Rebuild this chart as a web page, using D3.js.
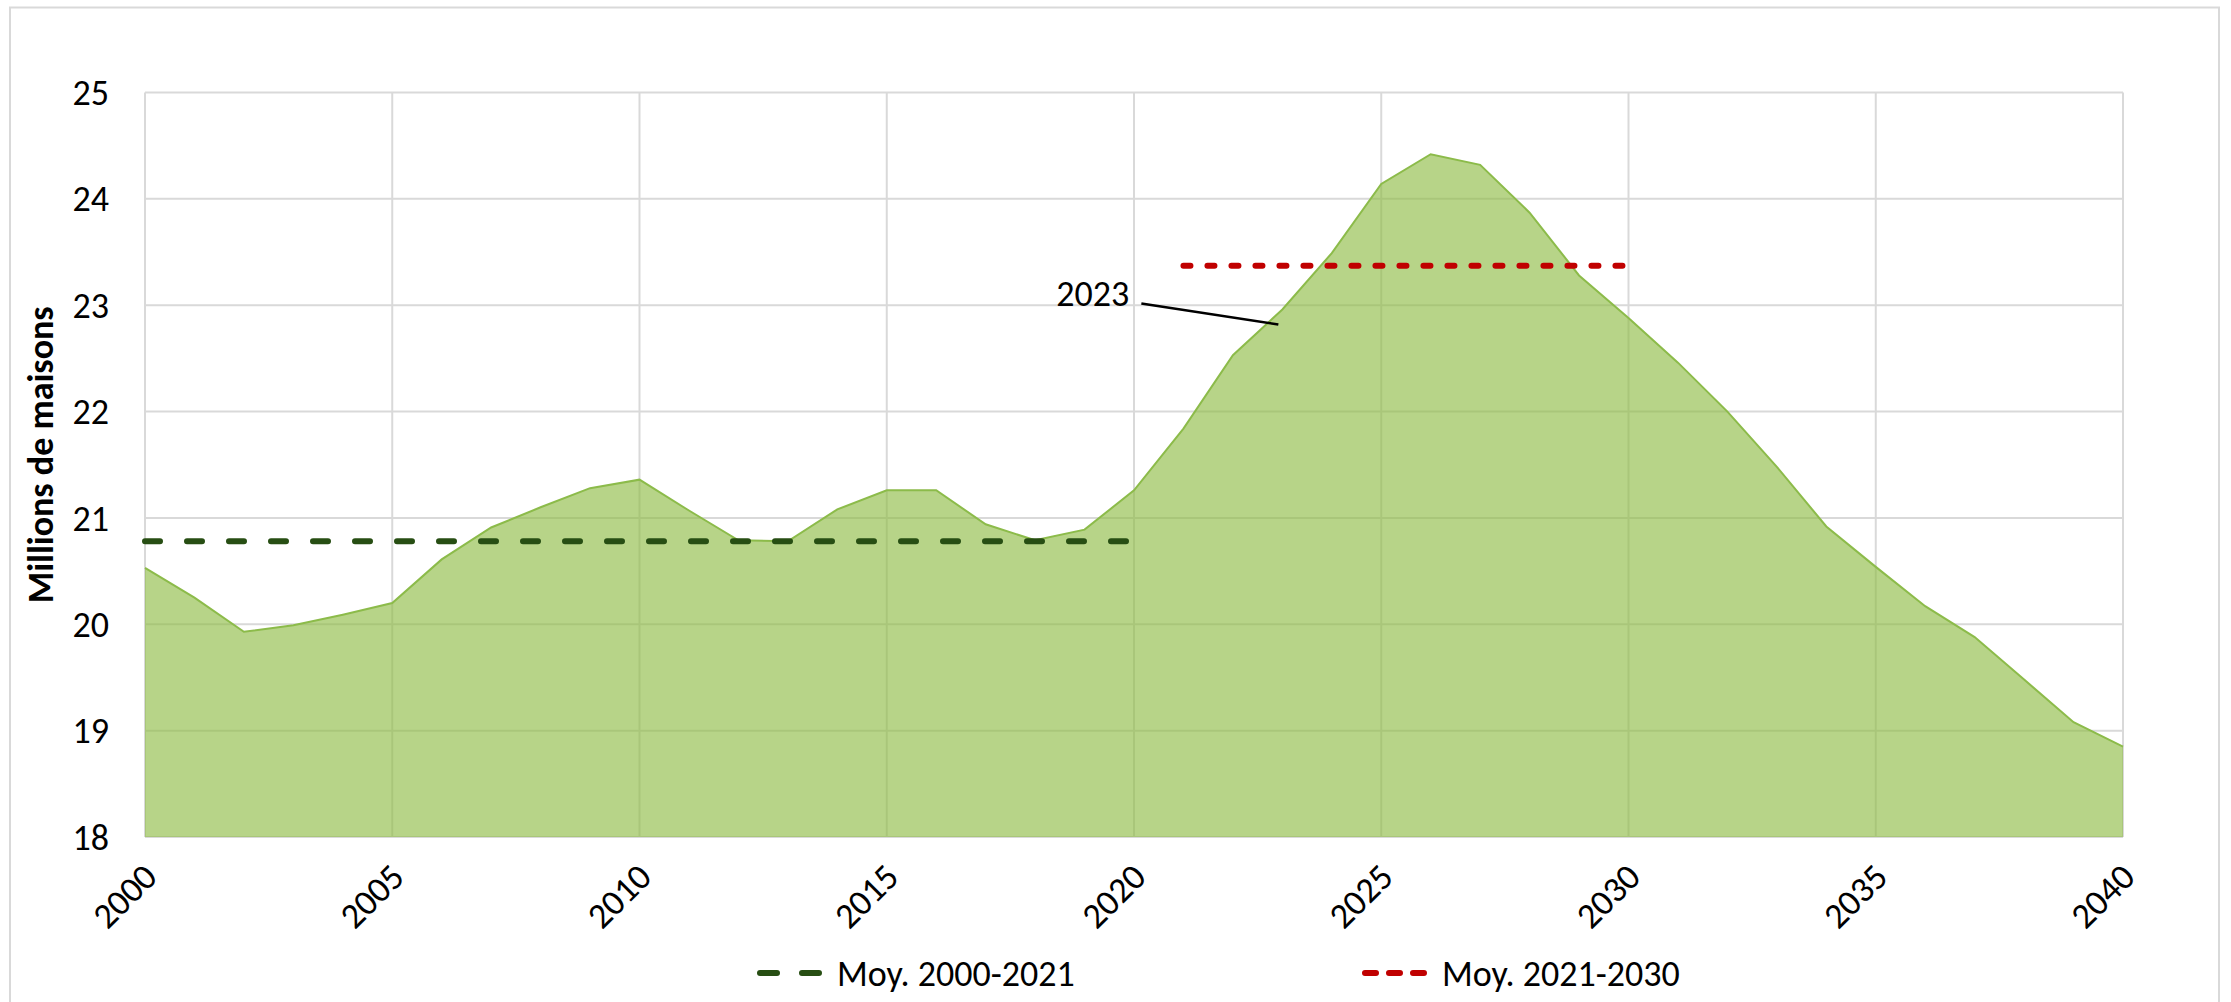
<!DOCTYPE html>
<html lang="fr">
<head>
<meta charset="utf-8">
<title>Millions de maisons</title>
<script src="https://cdn.jsdelivr.net/npm/d3@7"></script>
<style>
    body { margin: 0; background: #fff; }
    svg text { font-family: Carlito, Calibri, "Liberation Sans Narrow", "Open Sans", sans-serif; fill: #000; }
</style>
</head>
<body>
<div id="chart"></div>
<script>
// values (millions of houses)
const years = [2000, 2001, 2002, 2003, 2004, 2005, 2006, 2007, 2008, 2009,
    2010, 2011, 2012, 2013, 2014, 2015, 2016, 2017, 2018, 2019,
    2020, 2021, 2022, 2023, 2024, 2025, 2026, 2027, 2028, 2029,
    2030, 2031, 2032, 2033, 2034, 2035, 2036, 2037, 2038, 2039, 2040];
const houses = [20.53, 20.25, 19.93, 19.99, 20.09, 20.20, 20.61, 20.91, 21.10, 21.28,
    21.36, 21.07, 20.79, 20.78, 21.08, 21.26, 21.26, 20.94, 20.79, 20.89,
    21.26, 21.84, 22.53, 22.96, 23.49, 24.14, 24.42, 24.32, 23.87, 23.28,
    22.88, 22.46, 22.00, 21.48, 20.92, 20.54, 20.17, 19.88, 19.48, 19.08, 18.85];

// the two average lines
const avgLabels = ['Moy. 2000-2021', 'Moy. 2021-2030'];
const avgFrom = [2000, 2021];
const avgTo = [2020, 2030];
const avgValues = [20.78, 23.37];

const xTicks = [2000, 2005, 2010, 2015, 2020, 2025, 2030, 2035, 2040];
const yTicks = [18, 19, 20, 21, 22, 23, 24, 25];
const yTitle = 'Millions de maisons';
const noteYear = 2023;

const width = 2231, height = 1002;
const margin = { top: 92.5, right: 108, bottom: 165, left: 145 };
const avgColors = ['#274e13', '#c00000'];
const avgDash = ['15 27', '7 17'];

const svg = d3.select('#chart').append('svg')
    .attr('width', width)
    .attr('height', height);

svg.append('rect')
    .attr('width', width).attr('height', height)
    .attr('fill', '#fff');

// outer chart frame (runs off the bottom of the picture)
svg.append('rect')
    .attr('x', 10).attr('y', 7.5)
    .attr('width', 2209).attr('height', 1100)
    .attr('fill', 'none')
    .attr('stroke', '#d9d9d9')
    .attr('stroke-width', 2);

const x = d3.scaleLinear()
    .domain([years[0], years[years.length - 1]])
    .range([margin.left, width - margin.right]);
const y = d3.scaleLinear()
    .domain([18, 25])
    .range([height - margin.bottom, margin.top]);

// grid
const grid = svg.append('g').attr('stroke', '#d9d9d9').attr('stroke-width', 2);
grid.selectAll('line.h')
    .data(yTicks)
    .join('line')
    .classed('h', true)
    .attr('x1', x.range()[0]).attr('x2', x.range()[1])
    .attr('y1', d => y(d)).attr('y2', d => y(d));
grid.selectAll('line.v')
    .data(xTicks)
    .join('line')
    .classed('v', true)
    .attr('x1', d => x(d)).attr('x2', d => x(d))
    .attr('y1', y.range()[1]).attr('y2', y.range()[0]);

// area
const series = years.map((yr, i) => [yr, houses[i]]);
const area = d3.area()
    .x(d => x(d[0]))
    .y0(y(18))
    .y1(d => y(d[1]));
const line = d3.line()
    .x(d => x(d[0]))
    .y(d => y(d[1]));

svg.append('path')
    .datum(series)
    .attr('d', area)
    .attr('fill', '#8fbc45')
    .attr('fill-opacity', 0.64);
svg.append('path')
    .datum(series)
    .attr('d', line)
    .attr('fill', 'none')
    .attr('stroke', '#8cbb4a')
    .attr('stroke-width', 2);

// average lines
svg.selectAll('line.avg')
    .data(avgValues)
    .join('line')
    .classed('avg', true)
    .attr('x1', (d, i) => x(avgFrom[i]))
    .attr('x2', (d, i) => x(avgTo[i]))
    .attr('y1', d => y(d)).attr('y2', d => y(d))
    .attr('stroke', (d, i) => avgColors[i])
    .attr('stroke-width', 6)
    .attr('stroke-linecap', 'round')
    .attr('stroke-dasharray', (d, i) => avgDash[i]);

// y axis labels
svg.append('g')
    .selectAll('text')
    .data(yTicks)
    .join('text')
    .attr('x', 109)
    .attr('y', d => y(d))
    .attr('dy', '0.35em')
    .attr('text-anchor', 'end')
    .style('font-size', '36px')
    .text(d => d);

// x axis labels, slanted
svg.append('g')
    .selectAll('text')
    .data(xTicks)
    .join('text')
    .attr('transform', d => `translate(${x(d) + 14}, ${y(18) + 42}) rotate(-45)`)
    .attr('text-anchor', 'end')
    .style('font-size', '36px')
    .text(d => d);

// y axis title
svg.append('text')
    .attr('transform', `translate(40, ${(y(18) + y(25)) / 2 - 10}) rotate(-90)`)
    .attr('text-anchor', 'middle')
    .attr('dy', '0.35em')
    .style('font-size', '36px')
    .style('font-weight', 'bold')
    .text(yTitle);

// annotation for 2023
const ni = years.indexOf(noteYear);
const nx = x(noteYear), ny = y(houses[ni]);
svg.append('line')
    .attr('x1', nx - 141).attr('y1', ny - 6)
    .attr('x2', nx - 4).attr('y2', ny + 15)
    .attr('stroke', '#000')
    .attr('stroke-width', 2.5);
svg.append('text')
    .attr('x', nx - 153).attr('y', ny - 3)
    .attr('text-anchor', 'end')
    .style('font-size', '36px')
    .text(noteYear);

// legend
const legendX = [757, 1362];
const legend = svg.append('g')
    .selectAll('g')
    .data(avgLabels)
    .join('g')
    .attr('transform', (d, i) => `translate(${legendX[i]}, 973)`);
legend.append('line')
    .attr('x1', 3).attr('x2', 68)
    .attr('stroke', (d, i) => avgColors[i])
    .attr('stroke-width', 6)
    .attr('stroke-linecap', 'round')
    .attr('stroke-dasharray', (d, i) => i === 0 ? '17 25' : '11 13');
legend.append('text')
    .attr('x', 80)
    .attr('dy', '0.35em')
    .style('font-size', '36px')
    .text(d => d);
</script>
</body>
</html>
